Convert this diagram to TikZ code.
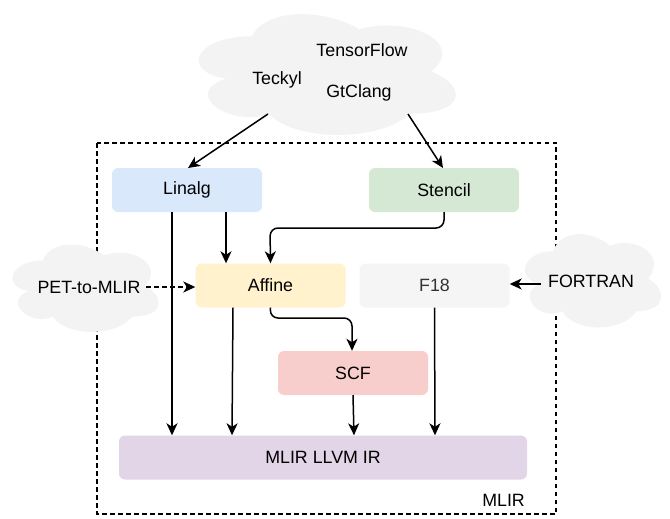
\documentclass[tikz,border=0pt]{standalone}
\usepackage{fontspec}
\setmainfont{Liberation Sans}
\usetikzlibrary{arrows.meta}
\definecolor{cloudfill}{HTML}{F3F3F3}
\definecolor{linalgc}{HTML}{DAE8FC}
\definecolor{stencilc}{HTML}{D5E8D4}
\definecolor{affinec}{HTML}{FFF2CC}
\definecolor{fc}{HTML}{F5F5F5}
\definecolor{scfc}{HTML}{F8CECC}
\definecolor{llvmc}{HTML}{E1D5E7}
\definecolor{ftext}{HTML}{333333}
\newcommand\mycloud[4]{%
  \begin{scope}[shift={(#1,#2)},xscale=#3,yscale=#4]
  \fill[cloudfill] (0.25,0.25) .. controls (0.05,0.25) and (0,0.5) .. (0.16,0.55)
    .. controls (0,0.66) and (0.18,0.9) .. (0.31,0.8)
    .. controls (0.4,1) and (0.7,1) .. (0.8,0.8)
    .. controls (1,0.8) and (1,0.6) .. (0.875,0.5)
    .. controls (1,0.3) and (0.8,0.1) .. (0.625,0.2)
    .. controls (0.5,0.05) and (0.3,0.05) .. (0.25,0.25) -- cycle;
  \end{scope}}
\begin{document}
\begin{tikzpicture}[x=1pt,y=-1pt,
  txt/.style={font=\fontsize{17.8}{20}\selectfont, inner sep=0pt},
  box/.style={txt, rounded corners=6pt, minimum width=150pt, minimum height=44pt},
  arr/.style={line width=1.5pt, -{Stealth[length=12pt,width=11pt,inset=3.5pt]}},
  frame/.style={line width=1.5pt, dash pattern=on 4.5pt off 3.5pt}]
\useasboundingbox (0,0) rectangle (670,519);
% frame
\draw[frame] (97,143) rectangle (556,514);
\node[txt, anchor=east] (mlir) at (525,500) {MLIR};
% clouds
\mycloud{180}{1}{287}{141}
\mycloud{2}{235}{163}{102}
\mycloud{515}{224}{152}{109}
% cloud texts
\node[txt] (tf) at (362,50) {TensorFlow};
\node[txt] (teckyl) at (277,80) {Teckyl};
\node[txt] (gtclang) at (359,93) {GtClang};
\node[txt] (pet) at (89,287) {PET-to-MLIR};
\node[txt] (fortran) at (591,281) {FORTRAN};
% boxes
\node[box, fill=linalgc] (linalg) at (187,190) {Linalg};
\node[box, fill=stencilc] (stencil) at (444,190) {Stencil};
\node[box, fill=affinec] (affine) at (270.5,285.5) {Affine};
\node[box, fill=fc, text=ftext] (f18) at (434.5,285.5) {F18};
\node[box, fill=scfc] (scf) at (353,373) {SCF};
\node[box, fill=llvmc, minimum width=408pt] (llvm) at (323,457.5) {MLIR LLVM IR};
% connector ends
\coordinate (c1) at (268,114);
\coordinate (c2) at (408,114);
\coordinate (p1) at (146,287);
\coordinate (f1) at (541,284);
% arrows
\draw[arr] (c1) -- (188,168);
\draw[arr] (c2) -- (443,168);
\draw[arr] (linalg.south -| 172,0) -- (llvm.north -| 172,0);
\draw[arr] (linalg.south -| 226,0) -- (affine.north -| 226,0);
\draw[arr, rounded corners=8pt] (stencil.south) -- (444,228) -- (270,228) -- (affine.north);
\draw[arr, dash pattern=on 4.5pt off 3.5pt] (p1) -- (affine.west |- p1);
\draw[arr] (affine.south -| 233,0) -- (llvm.north -| 232,0);
\draw[arr, rounded corners=8pt] (affine.south) -- (270,318) -- (352,318) -- (scf.north -| 352,0);
\draw[arr] (scf.south) -- (llvm.north -| 354,0);
\draw[arr] (f18.south) -- (llvm.north -| 435,0);
\draw[arr] (f1) -- (f18.east |- f1);
\end{tikzpicture}
\end{document}
